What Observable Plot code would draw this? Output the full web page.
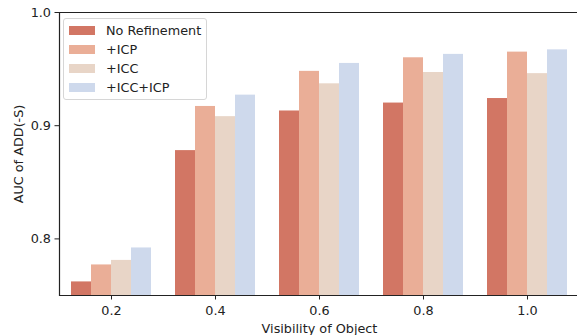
<!DOCTYPE html>
<html>
<head>
<meta charset="utf-8">
<script src="https://cdn.jsdelivr.net/npm/d3@7"></script>
<script src="https://cdn.jsdelivr.net/npm/@observablehq/plot@0.6"></script>
<style>
  html, body { margin: 0; padding: 0; background: #fff; }
  #wrap { position: relative; width: 577px; height: 335px; font-family: "DejaVu Sans", sans-serif; }
  #legend { position: absolute; left: 63px; top: 18px; width: 144px; height: 82px;
    border: 1px solid #d6d6d6; border-radius: 3px; background: rgba(255,255,255,0.8); box-sizing: border-box; }
  .row { position: absolute; left: 5px; height: 19px; display: flex; align-items: center; font-size: 12.8px; color: #222; }
  .sw { width: 26px; height: 9px; margin-right: 11px; }
</style>
</head>
<body>
<div id="wrap"><div id="chart"></div><div id="legend"></div></div>
<script>
const categories = ["0.2", "0.4", "0.6", "0.8", "1.0"];
const seriesNames = ["No Refinement", "+ICP", "+ICC", "+ICC+ICP"];
const colors = ["#d27664", "#eaae97", "#e8d5c7", "#ced9ec"];
const noRefinement = [0.762, 0.878, 0.913, 0.920, 0.924];
const icp = [0.777, 0.917, 0.948, 0.960, 0.965];
const icc = [0.781, 0.908, 0.937, 0.947, 0.946];
const iccIcp = [0.792, 0.927, 0.955, 0.963, 0.967];
const yTicks = [0.8, 0.9, 1.0];

const seriesValues = [noRefinement, icp, icc, iccIcp];
const data = [];
categories.forEach((c, i) => seriesNames.forEach((s, j) => data.push({cat: c, series: s, value: seriesValues[j][i]})));

const plot = Plot.plot({
  width: 577,
  height: 335,
  marginLeft: 57,
  marginRight: -3,
  marginTop: 12,
  marginBottom: 40,
  style: {fontFamily: "DejaVu Sans, sans-serif", fontSize: "12.8px", color: "#222", background: "#fff"},
  fx: {domain: categories, paddingInner: 0, paddingOuter: 0, label: null},
  x: {domain: seriesNames, paddingInner: 0, paddingOuter: 0.5, axis: null},
  y: {domain: [0.75, 1.0]},
  color: {domain: seriesNames, range: colors},
  marks: [
    Plot.barY(data, {fx: "cat", x: "series", y1: 0.75, y2: "value", fill: "series", clip: true}),
    Plot.ruleY([0.75, 1.0], {stroke: "#222", strokeWidth: 1.2}),
    Plot.frame({anchor: "left", facetAnchor: "left", stroke: "#222", strokeWidth: 1.2}),
    Plot.axisY({ticks: yTicks, tickFormat: ".1f", tickSize: 4.5, tickPadding: 4, label: "AUC of ADD(-S)", labelAnchor: "center", labelArrow: "none", labelOffset: 46, fontSize: 12.8}),
    Plot.axisFx({anchor: "bottom", tickSize: 4.5, tickPadding: 6, label: "Visibility of Object", labelAnchor: "center", labelArrow: "none", labelOffset: 37, fontSize: 12.8})
  ]
});
document.getElementById("chart").appendChild(plot);

const legend = document.getElementById("legend");
seriesNames.forEach((s, j) => {
  const row = document.createElement("div");
  row.className = "row";
  row.style.top = (2 + j * 19) + "px";
  const sw = document.createElement("div");
  sw.className = "sw";
  sw.style.background = colors[j];
  row.appendChild(sw);
  row.appendChild(document.createTextNode(s));
  legend.appendChild(row);
});
</script>
</body>
</html>
